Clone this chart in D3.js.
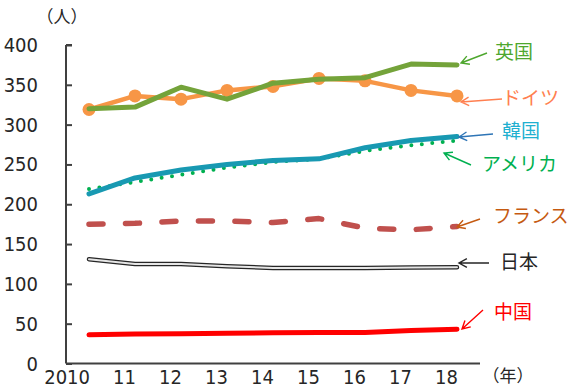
<!DOCTYPE html>
<html>
<head>
<meta charset="utf-8">
<script src="https://cdn.jsdelivr.net/npm/d3@7/dist/d3.min.js"></script>
<style>
  html, body { margin: 0; padding: 0; background: #fff; }
  svg { display: block; }
  .num { font-family: "Liberation Sans Narrow", "DejaVu Sans Condensed", "Arial Narrow", sans-serif; font-size: 20px; fill: #262626; }
  .jp { font-family: "Noto Sans CJK JP", sans-serif; font-size: 19px; }
  .unit { font-family: "Noto Sans CJK JP", sans-serif; font-size: 17px; fill: #262626; }
</style>
</head>
<body>
<svg id="chart" width="572" height="388"></svg>
<script>
// Years on the x axis (tick labels) and y ticks
const years = ["2010", "11", "12", "13", "14", "15", "16", "17", "18"];
const yTicks = [0, 50, 100, 150, 200, 250, 300, 350, 400];

// Values per country (人)
const germany = [319, 336, 332, 343, 348, 358, 355, 343, 336];
const uk      = [320, 322, 347, 332, 352, 357, 359, 376, 375];
const korea   = [213, 233, 243, 250, 255, 257, 271, 280, 285];
const usa     = [219, 228, 237, 246, 253, 257, 267, 274, 280];
const france  = [175, 176, 179, 179, 177, 182, 170, 168, 172];
const japan   = [131, 125, 125, 122, 120, 120, 120, 120.5, 121];
const china   = [36, 37, 37.5, 38, 38.5, 39, 39, 41.5, 43];

const svg = d3.select("#chart");

const x = d3.scalePoint().domain(years).range([66, 480]).padding(0.5);
const y = d3.scaleLinear().domain([0, 400]).range([363.5, 45]);

// Axes
const axisColor = "#404040";
const yAxis = svg.append("g").attr("transform", "translate(66,0)")
  .call(d3.axisRight(y).tickValues(yTicks).tickSize(6).tickFormat(""));
yAxis.select(".domain").attr("stroke", axisColor).attr("stroke-width", 2)
  .attr("d", `M0,${y(400)}H6M0,${y(400)}V${y(0)}`);
yAxis.selectAll(".tick line").attr("stroke", axisColor).attr("stroke-width", 2);

svg.append("line")
  .attr("x1", 66).attr("x2", 480).attr("y1", y(0)).attr("y2", y(0))
  .attr("stroke", axisColor).attr("stroke-width", 2);

// Y tick labels
svg.append("g").selectAll("text").data(yTicks).join("text")
  .attr("class", "num")
  .attr("x", 38).attr("y", d => y(d)).attr("dy", "0.35em")
  .attr("text-anchor", "end")
  .text(d => d);

// X tick labels, right-aligned on each year
svg.append("g").selectAll("text").data(years).join("text")
  .attr("class", "num")
  .attr("x", d => x(d) + 1).attr("y", 383.5)
  .attr("text-anchor", "end")
  .text(d => d);

// Unit labels
svg.append("text").attr("class", "unit").attr("x", 62).attr("y", 23)
  .attr("text-anchor", "middle").text("（人）");
svg.append("text").attr("class", "unit").attr("x", 508).attr("y", 382)
  .attr("text-anchor", "middle").text("（年）");

const line = d3.line().x((d, i) => x(years[i])).y(d => y(d));

function drawLine(data, opts) {
  return svg.append("path").datum(data)
    .attr("d", line)
    .attr("fill", "none")
    .attr("stroke", opts.color)
    .attr("stroke-width", opts.width)
    .attr("stroke-linecap", opts.cap || "round")
    .attr("stroke-linejoin", "round")
    .attr("stroke-dasharray", opts.dash || null);
}

// China
drawLine(china, { color: "#ff0000", width: 5 });

// Japan: double line (dark outline, light core)
drawLine(japan, { color: "#262626", width: 4.5 });
drawLine(japan, { color: "#e6e6e6", width: 2 });

// France: dashed
drawLine(france, { color: "#c0504d", width: 5.5, dash: "14 22.5" });

// USA: dotted
drawLine(usa, { color: "#00b050", width: 4, dash: "0 10.5" });

// Korea
drawLine(korea, { color: "#1899b2", width: 5 });

// Germany with circle markers
drawLine(germany, { color: "#f79646", width: 4.5 });
svg.append("g").selectAll("circle").data(germany).join("circle")
  .attr("cx", (d, i) => x(years[i])).attr("cy", d => y(d)).attr("r", 6.5)
  .attr("fill", "#f79646");

// UK
drawLine(uk, { color: "#74a33a", width: 5 });

// Country labels with arrows pointing at the last point of each series
const notes = [
  { name: "英国",    color: "#4ea72e", arrow: "#4ea72e", tx: 495, ty: 52,  from: [487, 53],  to: [461, 63] },
  { name: "ドイツ",  color: "#ff7f50", arrow: "#ff7f50", tx: 502, ty: 98,  from: [502, 99],  to: [461, 102] },
  { name: "韓国",    color: "#1fb0d0", arrow: "#2e75b6", tx: 502, ty: 131, from: [493, 134], to: [459, 137] },
  { name: "アメリカ", color: "#00b050", arrow: "#00b050", tx: 482, ty: 164, from: [471, 165], to: [444, 153] },
  { name: "フランス", color: "#c55a11", arrow: "#c55a11", tx: 493, ty: 216, from: [480, 219], to: [457, 227] },
  { name: "日本",    color: "#262626", arrow: "#262626", tx: 500, ty: 262, from: [489, 263], to: [459, 263] },
  { name: "中国",    color: "#ff0000", arrow: "#ff0000", tx: 494, ty: 312, from: [483, 310], to: [462, 329] }
];

notes.forEach(n => {
  const [x1, y1] = n.from, [x2, y2] = n.to;
  const ang = Math.atan2(y2 - y1, x2 - x1);
  const L = 9, a = 0.5;
  const p1 = [x2 - L * Math.cos(ang - a), y2 - L * Math.sin(ang - a)];
  const p2 = [x2 - L * Math.cos(ang + a), y2 - L * Math.sin(ang + a)];
  svg.append("path")
    .attr("d", `M${x1},${y1}L${x2},${y2}M${p1[0]},${p1[1]}L${x2},${y2}L${p2[0]},${p2[1]}`)
    .attr("fill", "none").attr("stroke", n.arrow).attr("stroke-width", 1.4)
    .attr("stroke-linejoin", "miter");
  svg.append("text").attr("class", "jp")
    .attr("x", n.tx).attr("y", n.ty).attr("dy", "0.35em")
    .attr("fill", n.color).text(n.name);
});
</script>
</body>
</html>
